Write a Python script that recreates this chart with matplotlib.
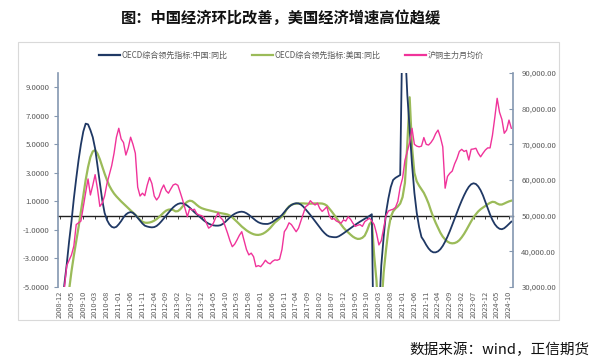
import numpy as np
import pandas as pd
import matplotlib
matplotlib.use('Agg')
import matplotlib.pyplot as plt
import matplotlib.patches as mpatches
from matplotlib.ticker import FuncFormatter

plt.rcParams['font.family'] = ['Noto Sans CJK SC', 'DejaVu Sans']

# monthly, 2008-12 .. 2024-11
months = pd.date_range('2008-12-01', periods=192, freq='MS')
month_labels = [d.strftime('%Y-%m') for d in months]

# OECD综合领先指标:中国:同比 (left axis)
china_cli = [
    -9.0,
    -6.5, -4.8, -3.4, -1.8, -0.4, 1.2, 2.6, 3.9, 5.0, 5.9, 6.45, 6.4,           # 2009
    6.0, 5.5, 4.7, 3.5, 2.3, 1.1, 0.2, -0.3, -0.6, -0.78, -0.84, -0.78,         # 2010
    -0.6, -0.38, -0.12, 0.08, 0.2, 0.25, 0.2, 0.05, -0.15, -0.35, -0.55, -0.7,  # 2011
    -0.76, -0.8, -0.82, -0.8, -0.72, -0.58, -0.4, -0.2, 0.0, 0.2, 0.4, 0.58,    # 2012
    0.72, 0.82, 0.87, 0.86, 0.8, 0.7, 0.56, 0.4, 0.24, 0.1, -0.05, -0.2,        # 2013
    -0.34, -0.46, -0.56, -0.63, -0.68, -0.7, -0.7, -0.67, -0.58, -0.44, -0.28, -0.12,  # 2014
    0.02, 0.13, 0.21, 0.26, 0.28, 0.25, 0.17, 0.06, -0.08, -0.22, -0.35, -0.46,  # 2015
    -0.53, -0.57, -0.58, -0.58, -0.53, -0.44, -0.32, -0.2, -0.1, 0.05, 0.25, 0.45,  # 2016
    0.62, 0.75, 0.83, 0.87, 0.86, 0.78, 0.64, 0.45, 0.25, 0.05, -0.17, -0.4,    # 2017
    -0.62, -0.84, -1.04, -1.22, -1.37, -1.46, -1.49, -1.51, -1.51, -1.45, -1.35, -1.24,  # 2018
    -1.12, -1.0, -0.88, -0.76, -0.64, -0.53, -0.42, -0.32, -0.22, -0.12, -0.02, 0.1,  # 2019
    -12.0, -15.0, -7.0, -3.5, -1.5, 0.2, 1.2, 2.0, 2.5, 2.65, 2.75, 2.85,       # 2020
    14.0, 12.0, 8.5, 6.0, 3.6, 1.6, 0.2, -0.8, -1.5, -1.75, -2.05, -2.3,        # 2021
    -2.48, -2.57, -2.57, -2.5, -2.35, -2.12, -1.82, -1.47, -1.08, -0.66, -0.22, 0.22,  # 2022
    0.65, 1.05, 1.42, 1.75, 2.02, 2.2, 2.27, 2.22, 2.05, 1.78, 1.42, 0.98,      # 2023
    0.52, 0.08, -0.3, -0.6, -0.8, -0.92, -0.95, -0.88, -0.74, -0.58, -0.42,     # 2024
]

# OECD综合领先指标:美国:同比 (left axis)
us_cli = [
    -11.0,
    -10.0, -8.5, -6.8, -5.2, -3.9, -2.8, -1.8, -0.8, 0.3, 1.4, 2.5, 3.4,        # 2009
    4.1, 4.5, 4.6, 4.35, 3.95, 3.45, 2.95, 2.5, 2.1, 1.8, 1.55, 1.35,           # 2010
    1.17, 1.0, 0.84, 0.68, 0.52, 0.37, 0.22, 0.06, -0.12, -0.3, -0.42, -0.49,   # 2011
    -0.5, -0.48, -0.43, -0.35, -0.24, -0.1, 0.06, 0.22, 0.35, 0.42, 0.44, 0.4,  # 2012
    0.3, 0.32, 0.45, 0.65, 0.85, 0.98, 1.05, 1.02, 0.9, 0.75, 0.62, 0.53,       # 2013
    0.47, 0.42, 0.38, 0.34, 0.3, 0.26, 0.22, 0.18, 0.15, 0.12, 0.08, 0.0,       # 2014
    -0.12, -0.27, -0.43, -0.6, -0.76, -0.9, -1.03, -1.14, -1.23, -1.3, -1.34, -1.35,  # 2015
    -1.32, -1.26, -1.16, -1.03, -0.87, -0.68, -0.48, -0.35, -0.2, -0.05, 0.15, 0.45,  # 2016
    0.65, 0.76, 0.82, 0.84, 0.85, 0.86, 0.86, 0.85, 0.84, 0.84, 0.85, 0.86,     # 2017
    0.86, 0.86, 0.85, 0.8, 0.7, 0.5, 0.3, 0.08, -0.15, -0.4, -0.62, -0.84,      # 2018
    -1.02, -1.18, -1.33, -1.47, -1.57, -1.63, -1.62, -1.55, -1.4, -1.05, -0.6, -0.4,  # 2019
    -2.8, -4.6, -8.0, -6.5, -4.0, -2.4, -1.0, -0.1, 0.3, 0.5, 0.65, 0.85,       # 2020
    1.3, 2.3, 5.0, 8.3, 4.8, 3.0, 2.4, 2.1, 1.85, 1.6, 1.25, 0.85,              # 2021
    0.35, -0.1, -0.5, -0.85, -1.2, -1.47, -1.67, -1.82, -1.91, -1.94, -1.92, -1.85,  # 2022
    -1.72, -1.52, -1.28, -1.0, -0.7, -0.4, -0.12, 0.1, 0.3, 0.45, 0.57, 0.68,   # 2023
    0.8, 0.9, 0.97, 0.95, 0.85, 0.78, 0.78, 0.85, 0.93, 1.0, 1.05,              # 2024
]

# 沪铜主力月均价 (right axis)
copper = [
    25000,
    27500, 29800, 36000, 37500, 39000, 41500, 47500, 48000, 48500, 52500, 56500, 60300,  # 2009
    55800, 58500, 61500, 57500, 52600, 53500, 55500, 59000, 61500, 64000, 67500, 72000,  # 2010
    74500, 71500, 70500, 67000, 69000, 72000, 70000, 67500, 58000, 55500, 56300, 55600,  # 2011
    58500, 60700, 59000, 55500, 54400, 55300, 57300, 58600, 57000, 56300, 57500, 58600,  # 2012
    58900, 58500, 56500, 54400, 52000, 49700, 52000, 51600, 51800, 50500, 50200, 50000,  # 2013
    49500, 48000, 46500, 47000, 47900, 49500, 50800, 49500, 48800, 47000, 45100, 43000,  # 2014
    41300, 42000, 43200, 44500, 45500, 43000, 40500, 39000, 39500, 38500, 35700, 36000,  # 2015
    35700, 36500, 37500, 36800, 36500, 37200, 37600, 37500, 37800, 40500, 45500, 46500,  # 2016
    48000, 47500, 46500, 45500, 46500, 48500, 50500, 52500, 53000, 54200, 53500, 53000,  # 2017
    53500, 52000, 51200, 51800, 52500, 50000, 49000, 49200, 48500, 48200, 47900, 48800,  # 2018
    48500, 49700, 49000, 47900, 47000, 47300, 47500, 47000, 48300, 48800, 49300, 48500,  # 2019
    47500, 45000, 41800, 43000, 46500, 50000, 51300, 51600, 51800, 52300, 54000, 58000,  # 2020
    60500, 65500, 68000, 70500, 74500, 70000, 69500, 69300, 69500, 71900, 70000, 69800,  # 2021
    70500, 71500, 73000, 74000, 72000, 69300, 57700, 61000, 61900, 62500, 64500, 66000,  # 2022
    68000, 68600, 68000, 68300, 65600, 68600, 68700, 68900, 67500, 66500, 67500, 68400,  # 2023
    69000, 69000, 72500, 77500, 82900, 79000, 77000, 73100, 74000, 76800, 74500,         # 2024
]

navy = '#1F3864'
green = '#9BBB59'
pink = '#F0339A'
axis_col = '#8497B0'
txt_col = '#595959'

fig = plt.figure(figsize=(5.97, 3.64), dpi=100)
ax = fig.add_axes([58/597, 1-287/364, (513-58)/597, (287-73)/364])
ax2 = ax.twinx()

x = np.arange(len(months))
ax.plot(x, china_cli, color=navy, lw=1.3, zorder=3)
ax.plot(x, us_cli, color=green, lw=1.6, zorder=2)
ax2.plot(x, copper, color=pink, lw=1.0)

ax.set_xlim(-0.7, 191.7)
ax.set_ylim(-5, 10)
ax2.set_ylim(30000, 90000)

ax.set_yticks(np.arange(-5, 10, 2))
ax.yaxis.set_major_formatter(FuncFormatter(lambda v, p: '%.4f' % v))
ax2.set_yticks(np.arange(30000, 90001, 10000))
ax2.yaxis.set_major_formatter(FuncFormatter(lambda v, p: '{:,.2f}'.format(v)))

ax.set_xticks(x[::5])
ax.set_xticklabels(month_labels[::5], rotation=90, fontsize=5.3, color=txt_col)
ax.tick_params(axis='x', length=0, pad=3)
ax.tick_params(axis='y', labelsize=5.6, labelcolor=txt_col, color=axis_col,
               length=3, width=0.8, direction='out', pad=3)
ax2.tick_params(axis='y', labelsize=5.6, labelcolor=txt_col, color=axis_col,
                length=3, width=0.8, direction='in', pad=6)

for a in (ax, ax2):
    a.spines['top'].set_visible(False)
    a.spines['bottom'].set_visible(False)
    a.patch.set_visible(False)
ax2.spines['left'].set_visible(False)
ax.spines['right'].set_visible(False)
ax.spines['left'].set_color(axis_col)
ax.spines['left'].set_linewidth(1.2)
ax2.spines['right'].set_color(axis_col)
ax2.spines['right'].set_linewidth(1.2)

# zero line with its category ticks (x axis crosses at 0)
zero_ax = ax.secondary_xaxis(5/15)
zero_ax.set_xticks(x[::5])
zero_ax.set_xticklabels([])
zero_ax.tick_params(length=2.5, width=0.7, color='#404040', direction='out')
zero_ax.spines['bottom'].set_color('#202020')
zero_ax.spines['bottom'].set_linewidth(1.0)

# legend
handles = [
    plt.Line2D([], [], color=navy, lw=1.6, label='OECD综合领先指标:中国:同比'),
    plt.Line2D([], [], color=green, lw=1.6, label='OECD综合领先指标:美国:同比'),
    plt.Line2D([], [], color=pink, lw=1.6, label='沪铜主力月均价'),
]
fig.legend(handles=handles, loc='center', bbox_to_anchor=(0.488, 1-55/364), ncol=3,
           frameon=False, fontsize=5.8, labelcolor=txt_col, handlelength=2.6,
           handletextpad=0.2, columnspacing=3.0)

# outer chart frame
frame = mpatches.Rectangle((18/597, 1-320/364), (559-18)/597, (320-42)/364,
                           transform=fig.transFigure, fill=False,
                           edgecolor='#D9D9D9', lw=0.8)
fig.patches.append(frame)

fig.text(0.47, 1-18/364, '图：中国经济环比改善，美国经济增速高位趋缓',
         ha='center', va='center', fontsize=11, fontweight='bold', color='#111111')
fig.text(590/597, 1-350/364, '数据来源：wind，正信期货', ha='right', va='center',
         fontsize=10.5, color='#111111')

fig.savefig('out.png', dpi=100)
